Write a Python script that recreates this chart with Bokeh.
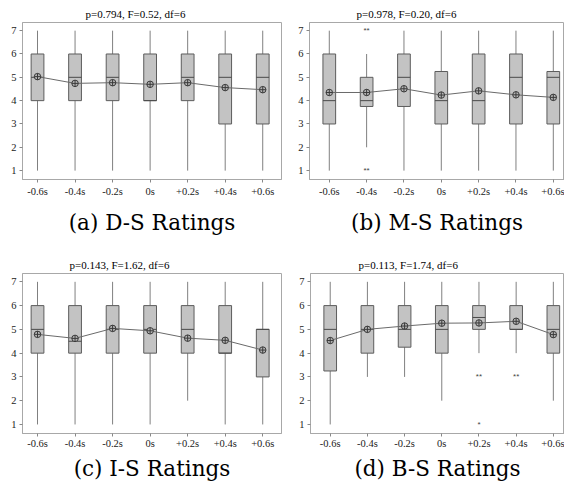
from bokeh.plotting import figure
from bokeh.models import ColumnDataSource, FixedTicker, Range1d, Title
from bokeh.layouts import column, row
from bokeh.embed import file_html
from bokeh.resources import INLINE

categories = ["-0.6s", "-0.4s", "-0.2s", "0s", "+0.2s", "+0.4s", "+0.6s"]
y_ticks = [1, 2, 3, 4, 5, 6, 7]

# (a) D-S Ratings
ds_title = "p=0.794, F=0.52, df=6"
ds_caption = "(a) D-S Ratings"
ds_low = [1, 1, 1, 1, 1, 1, 1]
ds_q1 = [4, 4, 4, 4, 4, 3, 3]
ds_med = [5, 5, 5, 4, 5, 5, 5]
ds_q3 = [6, 6, 6, 6, 6, 6, 6]
ds_high = [7, 7, 7, 7, 7, 7, 7]
ds_mean = [5.03, 4.74, 4.77, 4.70, 4.77, 4.56, 4.47]
ds_out_cat = []
ds_out_val = []
ds_out_mark = []

# (b) M-S Ratings
ms_title = "p=0.978, F=0.20, df=6"
ms_caption = "(b) M-S Ratings"
ms_low = [1, 2, 1, 1, 1, 1, 1]
ms_q1 = [3, 3.75, 3.75, 3, 3, 3, 3]
ms_med = [4, 4, 5, 4, 4, 5, 5]
ms_q3 = [6, 5, 6, 5.25, 6, 6, 5.25]
ms_high = [7, 6, 7, 7, 7, 7, 7]
ms_mean = [4.35, 4.35, 4.51, 4.24, 4.42, 4.25, 4.14]
ms_out_cat = ["-0.4s", "-0.4s"]
ms_out_val = [7, 1]
ms_out_mark = ["**", "**"]

# (c) I-S Ratings
is_title = "p=0.143, F=1.62, df=6"
is_caption = "(c) I-S Ratings"
is_low = [1, 1, 1, 1, 2, 1, 1]
is_q1 = [4, 4, 4, 4, 4, 4, 3]
is_med = [5, 4.5, 5, 5, 5, 4, 5]
is_q3 = [6, 6, 6, 6, 6, 6, 5]
is_high = [7, 7, 7, 7, 7, 7, 7]
is_mean = [4.79, 4.62, 5.04, 4.94, 4.63, 4.54, 4.13]
is_out_cat = []
is_out_val = []
is_out_mark = []

# (d) B-S Ratings
bs_title = "p=0.113, F=1.74, df=6"
bs_caption = "(d) B-S Ratings"
bs_low = [1, 3, 3, 2, 4, 4, 2]
bs_q1 = [3.25, 4, 4.25, 4, 5, 5, 4]
bs_med = [5, 5, 5, 5, 5.5, 5, 5]
bs_q3 = [6, 6, 6, 6, 6, 6, 6]
bs_high = [7, 7, 7, 7, 7, 7, 7]
bs_mean = [4.53, 5.00, 5.14, 5.26, 5.27, 5.34, 4.78]
bs_out_cat = ["+0.2s", "+0.2s", "+0.4s"]
bs_out_val = [3, 1, 3]
bs_out_mark = ["**", "*", "**"]

BOX_W = 0.34
SERIF = "Liberation Serif"


def make_panel(title, title_offset, caption, low, q1, med, q3, high, mean,
               out_cat, out_val, out_mark, width, height,
               mb_left, mb_right, mb_top, mb_bottom, x_lo, x_hi,
               tick_standoff, caption_standoff):
    xs = list(range(len(categories)))
    p = figure(width=width, height=height, output_backend="svg",
               toolbar_location=None, x_range=Range1d(x_lo, x_hi),
               y_range=Range1d(0.62, 7.35),
               min_border_left=mb_left, min_border_right=mb_right,
               min_border_top=mb_top, min_border_bottom=mb_bottom)
    p.title = Title(text=title, align="left", offset=title_offset,
                    text_font=SERIF, text_font_size="11px",
                    text_font_style="normal", text_color="black", standoff=5)
    src = ColumnDataSource(dict(
        x=xs, low=low, q1=q1, med=med, q3=q3, high=high, mean=mean,
        x0=[x - BOX_W / 2 for x in xs], x1=[x + BOX_W / 2 for x in xs]))
    p.segment(x0="x", y0="low", x1="x", y1="high", source=src,
              line_color="#808080", line_width=1)
    p.vbar(x="x", width=BOX_W, bottom="q1", top="q3", source=src,
           fill_color="#c3c3c3", line_color="#5c5c5c", line_width=1)
    p.segment(x0="x0", y0="med", x1="x1", y1="med", source=src,
              line_color="#4a4a4a", line_width=1)
    p.line(x="x", y="mean", source=src, line_color="#6a6a6a", line_width=1)
    p.scatter(x="x", y="mean", source=src, marker="circle_cross", size=6.5,
              fill_color="#b5b5b5", line_color="#3a3a3a", line_width=1)
    if out_cat:
        osrc = ColumnDataSource(dict(
            x=[categories.index(c) for c in out_cat], y=out_val, t=out_mark))
        p.text(x="x", y="y", text="t", source=osrc, text_align="center",
               text_baseline="middle", text_font_size="8px",
               text_color="#444444")
    p.xgrid.visible = False
    p.ygrid.visible = False
    p.outline_line_color = "#a8a8a8"
    p.xaxis.ticker = FixedTicker(ticks=xs)
    p.xaxis.major_label_overrides = {i: c for i, c in enumerate(categories)}
    p.yaxis.ticker = FixedTicker(ticks=y_ticks)
    for ax in (p.xaxis[0], p.yaxis[0]):
        ax.axis_line_color = "#a8a8a8"
        ax.major_tick_line_color = "#888888"
        ax.major_tick_in = 0
        ax.major_tick_out = 3
        ax.minor_tick_line_color = None
        ax.major_label_text_font = SERIF
        ax.major_label_text_font_size = "10.5px"
        ax.major_label_text_color = "#222222"
    p.yaxis.major_label_standoff = 3
    p.xaxis.major_label_standoff = tick_standoff
    p.xaxis.axis_label = caption
    p.xaxis.axis_label_text_font = "DejaVu Serif"
    p.xaxis.axis_label_text_font_size = "21.5px"
    p.xaxis.axis_label_text_font_style = "normal"
    p.xaxis.axis_label_text_color = "black"
    p.xaxis.axis_label_standoff = caption_standoff
    return p


pa = make_panel(ds_title, 63, ds_caption, ds_low, ds_q1, ds_med, ds_q3, ds_high,
                ds_mean, ds_out_cat, ds_out_val, ds_out_mark,
                288, 237, 22, 7, 22, 57, -0.4, 6.5, 3, 10)
pb = make_panel(ms_title, 47, ms_caption, ms_low, ms_q1, ms_med, ms_q3, ms_high,
                ms_mean, ms_out_cat, ms_out_val, ms_out_mark,
                276, 237, 21, 0, 22, 57, -0.53, 6.3, 3, 10)
pc = make_panel(is_title, 47, is_caption, is_low, is_q1, is_med, is_q3, is_high,
                is_mean, is_out_cat, is_out_val, is_out_mark,
                288, 246, 22, 7, 36, 50, -0.4, 6.5, 1, 4)
pd = make_panel(bs_title, 48, bs_caption, bs_low, bs_q1, bs_med, bs_q3, bs_high,
                bs_mean, bs_out_cat, bs_out_val, bs_out_mark,
                276, 246, 22, 0, 36, 50, -0.53, 6.3, 1, 4)

layout = column(row(pa, pb), row(pc, pd))
open("out.html", "w").write(file_html(layout, INLINE))
